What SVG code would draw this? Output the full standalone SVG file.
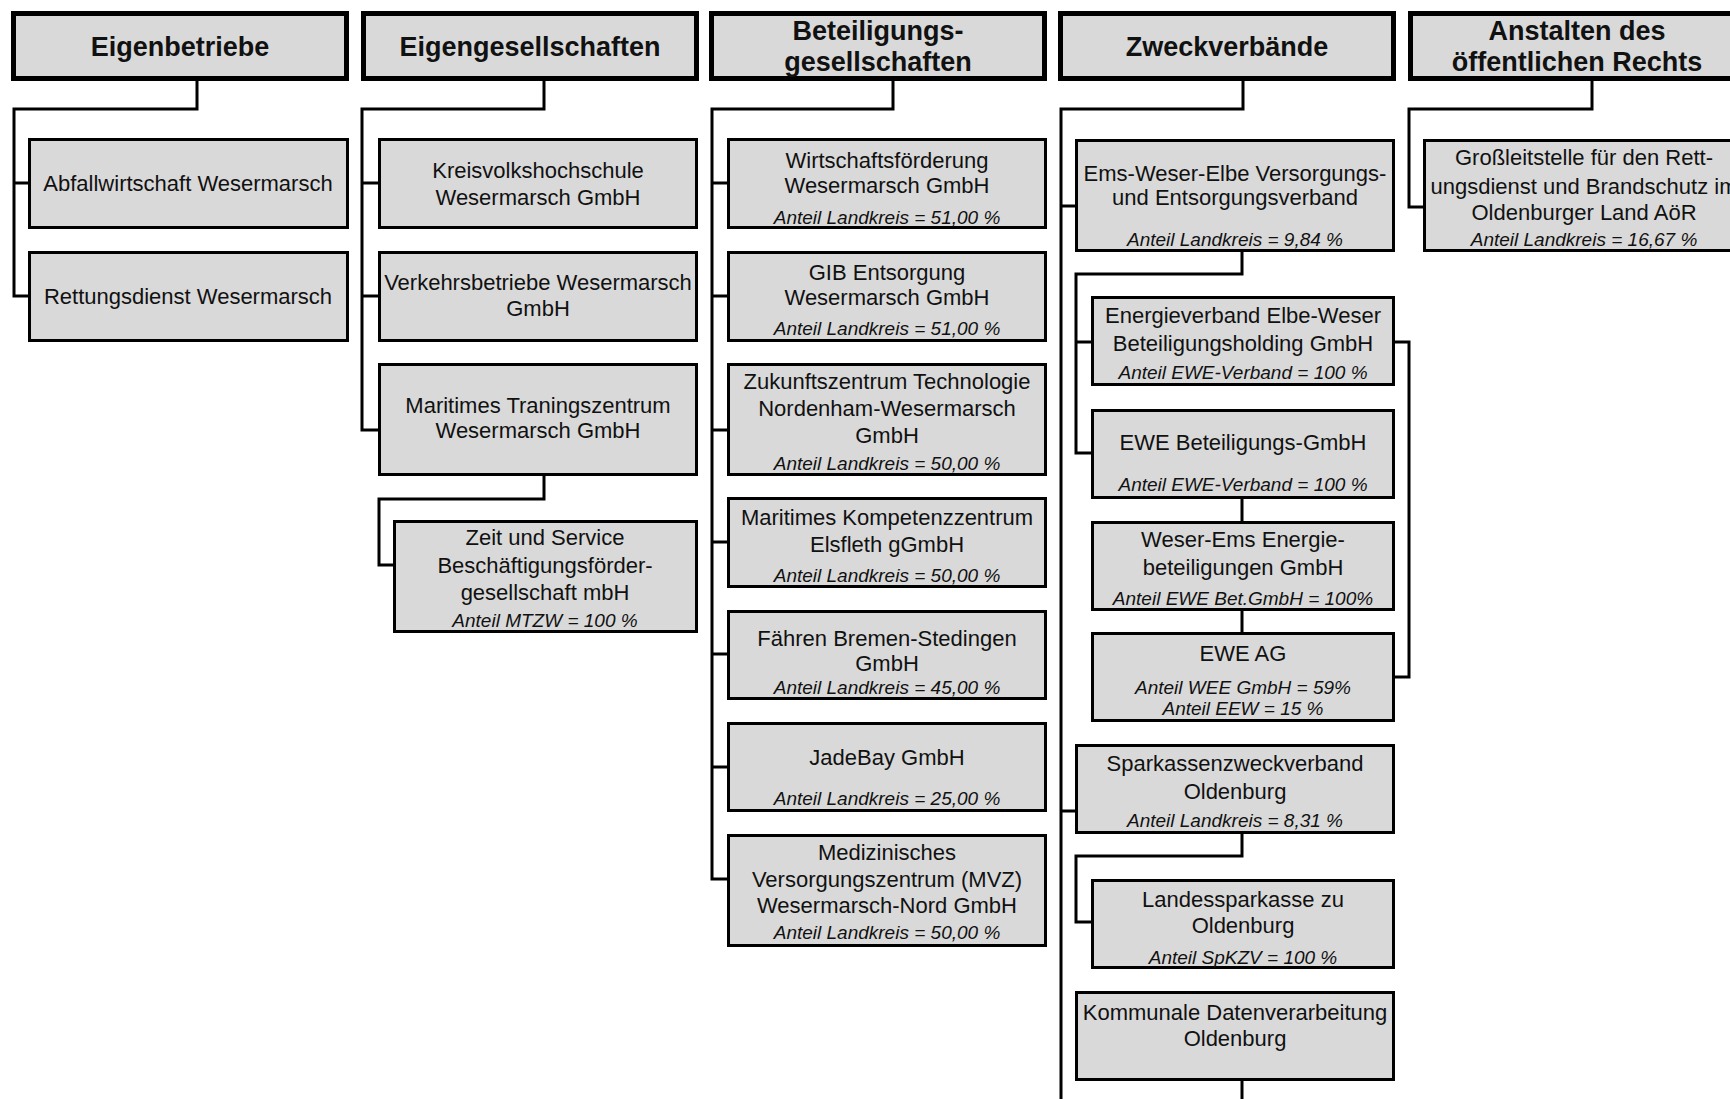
<svg xmlns="http://www.w3.org/2000/svg" width="1730" height="1099" viewBox="0 0 1730 1099">
<style>
.hdr{fill:#d9d9d9;stroke:#000;stroke-width:5}
.box{fill:#d9d9d9;stroke:#000;stroke-width:3}
.conn path{fill:none;stroke:#000;stroke-width:3}
text{font-family:"Liberation Sans",Arial,Helvetica,sans-serif;text-anchor:middle;fill:#111}
.h{font-size:27px;font-weight:bold}
.t{font-size:22px}
.i{font-size:19px;font-style:italic}
</style>
<rect width="1730" height="1099" fill="#fff"/>

<g id="connectors" class="conn">
<path d="M197,81 V109 H14 V296 H28 M14,183 H28"/>
<path d="M544,81 V109 H362 V430 H378 M362,183 H378 M362,296 H378"/>
<path d="M544,476 V499 H379 V565 H393"/>
<path d="M893,81 V109 H712 V879 H727 M712,183 H727 M712,296 H727 M712,430 H727 M712,542 H727 M712,654 H727 M712,767 H727"/>
<path d="M1243,81 V109 H1061 V1099 M1061,206 H1075 M1061,811 H1075"/>
<path d="M1242,252 V274 H1076 V453 H1091 M1076,342 H1091"/>
<path d="M1242,498 V521 M1242,610 V632"/>
<path d="M1395,342 H1409 V677 H1395"/>
<path d="M1242,834 V856 H1076 V922 H1091"/>
<path d="M1242,1080 V1099"/>
<path d="M1592,81 V109 H1409 V207 H1423"/>
</g>

<g id="h-eigenbetriebe"><rect class="hdr" x="13.5" y="13.5" width="333" height="65"/><text class="h" x="180" y="56">Eigenbetriebe</text></g>
<g id="h-eigengesellschaften"><rect class="hdr" x="363.5" y="13.5" width="333" height="65"/><text class="h" x="530" y="56">Eigengesellschaften</text></g>
<g id="h-beteiligungsgesellschaften"><rect class="hdr" x="711.5" y="13.5" width="333" height="65"/><text class="h" x="878" y="40">Beteiligungs-</text><text class="h" x="878" y="71">gesellschaften</text></g>
<g id="h-zweckverbaende"><rect class="hdr" x="1060.5" y="13.5" width="333" height="65"/><text class="h" x="1227" y="56">Zweckverbände</text></g>
<g id="h-anstalten"><rect class="hdr" x="1410.5" y="13.5" width="333" height="65"/><text class="h" x="1577" y="40">Anstalten des</text><text class="h" x="1577" y="71">öffentlichen Rechts</text></g>

<g id="abfallwirtschaft"><rect class="box" x="29.5" y="139.5" width="318" height="88"/><text class="t" x="188" y="191">Abfallwirtschaft Wesermarsch</text></g>
<g id="rettungsdienst"><rect class="box" x="29.5" y="252.5" width="318" height="88"/><text class="t" x="188" y="304">Rettungsdienst Wesermarsch</text></g>

<g id="kreisvolkshochschule"><rect class="box" x="379.5" y="139.5" width="317" height="88"/><text class="t" x="538" y="178">Kreisvolkshochschule</text><text class="t" x="538" y="205">Wesermarsch GmbH</text></g>
<g id="verkehrsbetriebe"><rect class="box" x="379.5" y="252.5" width="317" height="88"/><text class="t" x="538" y="290">Verkehrsbetriebe Wesermarsch</text><text class="t" x="538" y="316">GmbH</text></g>
<g id="mtzw"><rect class="box" x="379.5" y="364.5" width="317" height="110"/><text class="t" x="538" y="413">Maritimes Traningszentrum</text><text class="t" x="538" y="438">Wesermarsch GmbH</text></g>
<g id="zeit-und-service"><rect class="box" x="394.5" y="521.5" width="302" height="110"/><text class="t" x="545" y="545">Zeit und Service</text><text class="t" x="545" y="573">Beschäftigungsförder-</text><text class="t" x="545" y="600">gesellschaft mbH</text><text class="i" x="545" y="627">Anteil MTZW = 100 %</text></g>

<g id="wirtschaftsfoerderung"><rect class="box" x="728.5" y="139.5" width="317" height="88"/><text class="t" x="887" y="168">Wirtschaftsförderung</text><text class="t" x="887" y="193">Wesermarsch GmbH</text><text class="i" x="887" y="224">Anteil Landkreis = 51,00 %</text></g>
<g id="gib"><rect class="box" x="728.5" y="252.5" width="317" height="88"/><text class="t" x="887" y="280">GIB Entsorgung</text><text class="t" x="887" y="305">Wesermarsch GmbH</text><text class="i" x="887" y="335">Anteil Landkreis = 51,00 %</text></g>
<g id="zukunftszentrum"><rect class="box" x="728.5" y="364.5" width="317" height="110"/><text class="t" x="887" y="389">Zukunftszentrum Technologie</text><text class="t" x="887" y="416">Nordenham-Wesermarsch</text><text class="t" x="887" y="443">GmbH</text><text class="i" x="887" y="470">Anteil Landkreis = 50,00 %</text></g>
<g id="maritimes-kompetenzzentrum"><rect class="box" x="728.5" y="498.5" width="317" height="88"/><text class="t" x="887" y="525">Maritimes Kompetenzzentrum</text><text class="t" x="887" y="552">Elsfleth gGmbH</text><text class="i" x="887" y="582">Anteil Landkreis = 50,00 %</text></g>
<g id="faehren"><rect class="box" x="728.5" y="611.5" width="317" height="87"/><text class="t" x="887" y="646">Fähren Bremen-Stedingen</text><text class="t" x="887" y="671">GmbH</text><text class="i" x="887" y="694">Anteil Landkreis = 45,00 %</text></g>
<g id="jadebay"><rect class="box" x="728.5" y="723.5" width="317" height="87"/><text class="t" x="887" y="765">JadeBay GmbH</text><text class="i" x="887" y="805">Anteil Landkreis = 25,00 %</text></g>
<g id="mvz"><rect class="box" x="728.5" y="835.5" width="317" height="110"/><text class="t" x="887" y="860">Medizinisches</text><text class="t" x="887" y="887">Versorgungszentrum (MVZ)</text><text class="t" x="887" y="913">Wesermarsch-Nord GmbH</text><text class="i" x="887" y="939">Anteil Landkreis = 50,00 %</text></g>

<g id="ems-weser-elbe"><rect class="box" x="1076.5" y="140.5" width="317" height="110"/><text class="t" x="1235" y="181">Ems-Weser-Elbe Versorgungs-</text><text class="t" x="1235" y="205">und Entsorgungsverband</text><text class="i" x="1235" y="246">Anteil Landkreis = 9,84 %</text></g>
<g id="energieverband"><rect class="box" x="1092.5" y="297.5" width="301" height="87"/><text class="t" x="1243" y="323">Energieverband Elbe-Weser</text><text class="t" x="1243" y="351">Beteiligungsholding GmbH</text><text class="i" x="1243" y="379">Anteil EWE-Verband = 100 %</text></g>
<g id="ewe-beteiligungs"><rect class="box" x="1092.5" y="410.5" width="301" height="87"/><text class="t" x="1243" y="450">EWE Beteiligungs-GmbH</text><text class="i" x="1243" y="491">Anteil EWE-Verband = 100 %</text></g>
<g id="weser-ems"><rect class="box" x="1092.5" y="522.5" width="301" height="87"/><text class="t" x="1243" y="547">Weser-Ems Energie-</text><text class="t" x="1243" y="575">beteiligungen GmbH</text><text class="i" x="1243" y="605">Anteil EWE Bet.GmbH = 100%</text></g>
<g id="ewe-ag"><rect class="box" x="1092.5" y="633.5" width="301" height="87"/><text class="t" x="1243" y="661">EWE AG</text><text class="i" x="1243" y="694">Anteil WEE GmbH = 59%</text><text class="i" x="1243" y="715">Anteil EEW = 15 %</text></g>
<g id="sparkassenzweckverband"><rect class="box" x="1076.5" y="745.5" width="317" height="87"/><text class="t" x="1235" y="771">Sparkassenzweckverband</text><text class="t" x="1235" y="799">Oldenburg</text><text class="i" x="1235" y="827">Anteil Landkreis = 8,31 %</text></g>
<g id="landessparkasse"><rect class="box" x="1092.5" y="880.5" width="301" height="87"/><text class="t" x="1243" y="907">Landessparkasse zu</text><text class="t" x="1243" y="933">Oldenburg</text><text class="i" x="1243" y="964">Anteil SpKZV = 100 %</text></g>
<g id="kdo"><rect class="box" x="1076.5" y="992.5" width="317" height="87"/><text class="t" x="1235" y="1020">Kommunale Datenverarbeitung</text><text class="t" x="1235" y="1046">Oldenburg</text></g>

<g id="grossleitstelle"><rect class="box" x="1424.5" y="140.5" width="320" height="110"/><text class="t" x="1584" y="165">Großleitstelle für den Rett-</text><text class="t" x="1584" y="194">ungsdienst und Brandschutz im</text><text class="t" x="1584" y="220">Oldenburger Land AöR</text><text class="i" x="1584" y="246">Anteil Landkreis = 16,67 %</text></g>
</svg>
